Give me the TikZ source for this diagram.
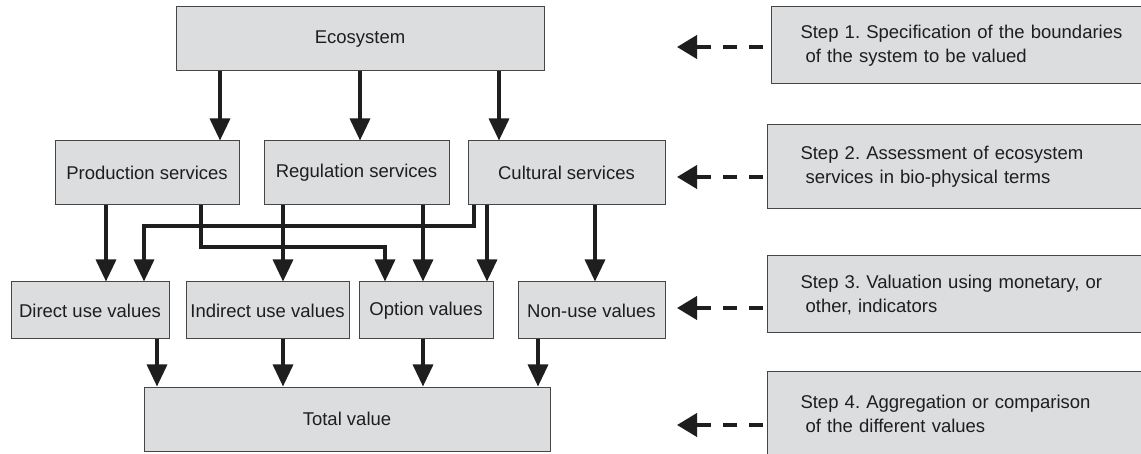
\documentclass[tikz,border=0pt]{standalone}
\usepackage{fontspec}
\setmainfont{Liberation Sans}
\usetikzlibrary{arrows.meta}
\definecolor{boxfill}{RGB}{220,221,223}
\definecolor{boxline}{RGB}{70,70,70}
\definecolor{ink}{RGB}{30,30,30}
\frenchspacing
\begin{document}
\begin{tikzpicture}[x=1pt,y=-1pt,
  box/.style={draw=boxline, line width=1pt, fill=boxfill, text=ink, inner sep=0pt,
    font=\fontsize{18.5}{24}\selectfont\frenchspacing},
  stepbox/.style={box, anchor=west, text width=360pt, align=left},
  flow/.style={draw=ink, line width=3.3pt, line join=miter,
    -{Triangle[width=20pt,length=22pt]}},
  dflow/.style={draw=ink, line width=4pt, dash pattern=on 14pt off 12pt,
    -{Triangle[width=23pt,length=20pt]}}
]
\clip (0,0) rectangle (1141,454);
\fill[white] (0,0) rectangle (1141,454);

% main boxes
\node[box, minimum width=368pt, minimum height=64pt] (eco) at (360,39) {Ecosystem};
\node[box, minimum width=184pt, minimum height=64pt] (prod) at (147,173) {Production services};
\node[box, minimum width=185pt, minimum height=64pt] (reg) at (356.5,173) {Regulation services};
\node[box, minimum width=197pt, minimum height=64pt] (cult) at (566.5,173) {Cultural services};
\node[box, minimum width=158pt, minimum height=57pt] (dir) at (90,310.5) {Direct use values};
\node[box, minimum width=163pt, minimum height=57pt] (ind) at (267.5,310.5) {Indirect use values};
\node[box, minimum width=134pt, minimum height=57pt] (opt) at (426,310.5) {Option values};
\node[box, minimum width=147pt, minimum height=57pt] (non) at (591.5,310.5) {Non-use values};
\node[box, minimum width=406pt, minimum height=64pt] (tot) at (347,419) {Total value};

% step boxes
\node[stepbox, inner xsep=29pt, minimum height=77pt] (s1) at (771,45.5)
  {Step 1. Specification of the boundaries\\\hspace*{0.278em}of the system to be valued};
\node[stepbox, inner xsep=33pt, minimum height=84pt] (s2) at (767,167)
  {Step 2. Assessment of ecosystem\\\hspace*{0.278em}services in bio-physical terms};
\node[stepbox, inner xsep=33pt, minimum height=77pt] (s3) at (767,294.5)
  {Step 3. Valuation using monetary, or\\\hspace*{0.278em}other, indicators};
\node[stepbox, inner xsep=33pt, minimum height=84pt] (s4) at (767,414)
  {Step 4. Aggregation or comparison\\\hspace*{0.278em}of the different values};

% ecosystem -> services
\draw[flow] (eco.south -| 220,0) -- (prod.north -| 220,0);
\draw[flow] (eco.south -| 360,0) -- (reg.north -| 360,0);
\draw[flow] (eco.south -| 499,0) -- (cult.north -| 499,0);

% services -> values
\draw[flow] (prod.south -| 106,0) -- (dir.north -| 106,0);
\draw[flow] (prod.south -| 201,0) -- (201,247) -- (385,247) -- (opt.north -| 385,0);
\draw[flow] (reg.south -| 283,0) -- (ind.north -| 283,0);
\draw[flow] (reg.south -| 423,0) -- (opt.north -| 423,0);
\draw[flow] (cult.south -| 474,0) -- (474,226) -- (144,226) -- (dir.north -| 144,0);
\draw[flow] (cult.south -| 487,0) -- (opt.north -| 487,0);
\draw[flow] (cult.south -| 595,0) -- (non.north -| 595,0);

% values -> total
\draw[flow] (dir.south -| 157,0) -- (tot.north -| 157,0);
\draw[flow] (ind.south -| 283,0) -- (tot.north -| 283,0);
\draw[flow] (opt.south -| 423,0) -- (tot.north -| 423,0);
\draw[flow] (non.south -| 538,0) -- (tot.north -| 538,0);

% dashed step arrows
\coordinate (d1s) at (763,47);  \coordinate (d1e) at (677,47);
\coordinate (d2s) at (763,177); \coordinate (d2e) at (677,177);
\coordinate (d3s) at (763,308); \coordinate (d3e) at (677,308);
\coordinate (d4s) at (763,425); \coordinate (d4e) at (677,425);
\draw[dflow] (d1s) -- (d1e);
\draw[dflow] (d2s) -- (d2e);
\draw[dflow] (d3s) -- (d3e);
\draw[dflow] (d4s) -- (d4e);
\end{tikzpicture}
\end{document}
